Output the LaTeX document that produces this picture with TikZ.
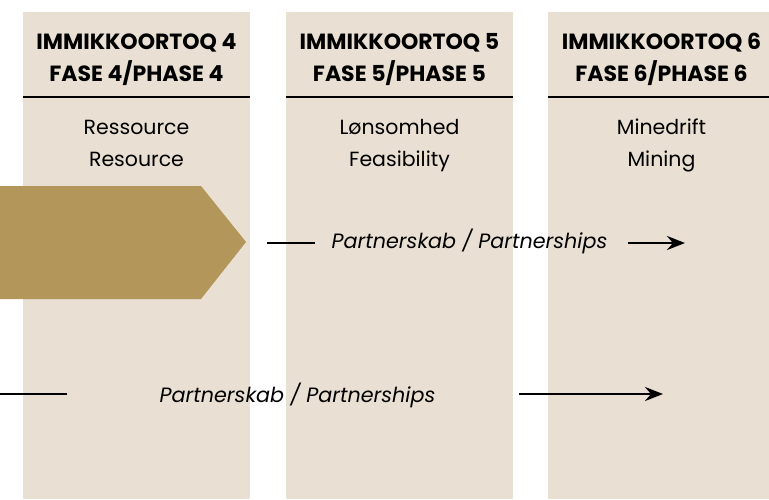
\documentclass[tikz,border=0pt]{standalone}
\usepackage{fontspec}
\setmainfont{Poppins}
\usetikzlibrary{arrows.meta}
\usepackage{xcolor}
\definecolor{sand}{HTML}{E9E0D3}
\definecolor{gold}{HTML}{B39659}

\begin{document}
\begin{tikzpicture}[x=1pt,y=-1pt,
  column/.style={fill=sand},
  headline/.style={black, line width=2pt},
  header/.style={font=\bfseries\fontsize{22}{32}\selectfont, align=center, inner sep=0},
  subtitle/.style={font=\fontsize{20.5}{32}\selectfont, align=center, inner sep=0},
  partner/.style={font=\itshape\fontsize{20.7}{24}\selectfont, inner sep=0, anchor=base},
  conn/.style={black, line width=2.8pt},
  tip/.style={-{Stealth[length=18pt,width=14pt,inset=6pt]}},
  ]
\useasboundingbox (0,0) rectangle (769,499);

% columns
\fill[column] (23,12) rectangle (250,499);
\fill[column] (286,12) rectangle (513,499);
\fill[column] (548,12) rectangle (769,499);
\draw[headline] (23,97) -- (250,97);
\draw[headline] (286,97) -- (513,97);
\draw[headline] (548,97) -- (769,97);

\node[header] (head4) at (136.5,58.6) {\strut IMMIKKOORTOQ 4\\\strut FASE 4/PHASE 4};
\node[header] (head5) at (399.5,58.6) {\strut IMMIKKOORTOQ 5\\\strut FASE 5/PHASE 5};
\node[header] (head6) at (661.5,58.6) {\strut IMMIKKOORTOQ 6\\\strut FASE 6/PHASE 6};

\node[subtitle] (sub4) at (136.5,143.6) {\strut Ressource\\\strut Resource};
\node[subtitle] (sub5) at (399.5,143.6) {\strut Lønsomhed\\\strut Feasibility};
\node[subtitle] (sub6) at (661.5,143.6) {\strut Minedrift\\\strut Mining};

% current phase
\fill[gold] (0,186) -- (201,186) -- (246,242) -- (201,299) -- (0,299) -- cycle;

% partnerships, upper row
\node[partner] (partA) at (469.5,248) {Partnerskab / Partnerships};
\coordinate (partAin) at (267,243);
\coordinate (partAinend) at (315,243);
\coordinate (partAout) at (628,243);
\coordinate (partAoutend) at (685,243);
\draw[conn] (partAin) -- (partAinend);
\draw[conn,tip] (partAout) -- (partAoutend);

% partnerships, lower row
\node[partner] (partB) at (297.5,402) {Partnerskab / Partnerships};
\coordinate (partBin) at (0,394);
\coordinate (partBinend) at (67,394);
\coordinate (partBout) at (519,394);
\coordinate (partBoutend) at (663,394);
\draw[conn] (partBin) -- (partBinend);
\draw[conn,tip] (partBout) -- (partBoutend);

\end{tikzpicture}
\end{document}
